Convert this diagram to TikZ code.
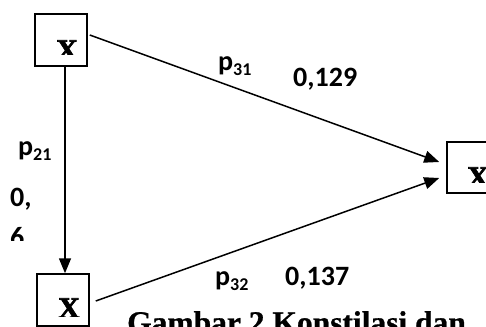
\documentclass[tikz,border=0pt]{standalone}
\usepackage{fontspec}
\setmainfont{Carlito}
\newfontfamily\serifheavy[FakeBold=2.5]{Liberation Serif Bold}
\newfontfamily\serifcap[FakeBold=0.8]{Liberation Serif Bold}
\usetikzlibrary{arrows.meta}
\tikzset{
  boxnode/.style={draw=black, line width=1.5pt, minimum width=52pt, minimum height=52pt, inner sep=0pt},
  conn/.style={line width=1.5pt, -{Triangle[length=15pt,width=12pt]}},
  lbl/.style={inner sep=0pt, anchor=base west, font=\fontsize{28}{28}\selectfont\bfseries},
  bigx/.style={inner sep=0pt, anchor=base west, font=\fontsize{30}{30}\selectfont\serifheavy},
  captext/.style={inner sep=0pt, anchor=base west, font=\fontsize{31.5}{31.5}\selectfont\serifcap}
}
\newcommand{\psub}[1]{p\raisebox{-5pt}{\fontsize{18}{18}\selectfont #1}}
\begin{document}
\begin{tikzpicture}[x=1pt,y=-1pt]
\useasboundingbox (0,0) rectangle (486,326);
\clip (0,0) rectangle (486,326);
\fill[white] (0,0) rectangle (486,326);
% boxes
\node[boxnode] (b1) at (61,40) {};
\node[boxnode] (b2) at (63,300) {};
\node[boxnode, minimum height=51pt] (b3) at (473,167.5) {};
% clipped X labels
\begin{scope}
  \clip (40,20) rectangle (85,55);
  \node[bigx] (x1) at (56,60) {X};
\end{scope}
\begin{scope}
  \clip (40,280) rectangle (87,316);
  \node[bigx] (x2) at (58,318) {X};
\end{scope}
\begin{scope}
  \clip (450,150) rectangle (486,182);
  \node[bigx] (x3) at (467,187) {X};
\end{scope}
% connectors
\draw[conn] ([xshift=4pt]b1.south) -- ([xshift=2pt]b2.north);
\draw[conn] ([shift={(2,-5)}]b1.east) -- ([shift={(-7,-5.5)}]b3.west);
\draw[conn] ([shift={(6,1)}]b2.east) -- ([shift={(-7,10.5)}]b3.west);
% labels
\node[lbl] (p31) at (218,71) {\psub{31}};
\node[lbl] (v31) at (293,86) {0,129};
\node[lbl] (p21) at (18,155) {\psub{21}};
\node[lbl] (v21a) at (10,206) {0,};
\begin{scope}
  \clip (0,215) rectangle (40,240);
  \node[lbl] (v21b) at (10,246) {6};
\end{scope}
\node[lbl] (p32) at (215,285) {\psub{32}};
\node[lbl] (v32) at (285,285) {0,137};
\node[captext] (caption) at (127,333) {Gambar 2 Konstilasi dan};
\end{tikzpicture}
\end{document}
